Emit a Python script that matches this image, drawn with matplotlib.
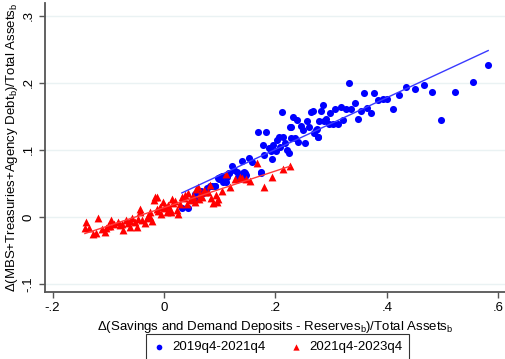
import numpy as np
import matplotlib
matplotlib.use("Agg")
import matplotlib.pyplot as plt

plt.rcParams['font.family'] = ['Liberation Sans', 'DejaVu Sans']

# 2019q4-2021q4
x_2019 = [0.582, 0.555, 0.522, 0.497, 0.481, 0.467, 0.451, 0.434, 0.422, 0.411,
          0.400, 0.393, 0.385, 0.377, 0.372, 0.365, 0.359, 0.354, 0.348, 0.343,
          0.336, 0.332, 0.327, 0.321, 0.317, 0.312, 0.307, 0.303, 0.298, 0.296,
          0.291, 0.287, 0.285, 0.282, 0.278, 0.276, 0.273, 0.267, 0.264, 0.260,
          0.257, 0.250, 0.246, 0.239, 0.232, 0.228, 0.212, 0.169, 0.183, 0.178,
          0.180, 0.188, 0.194, 0.192, 0.196, 0.201, 0.203, 0.206, 0.208, 0.214,
          0.217, 0.221, 0.224, 0.226, 0.228, 0.235, 0.241, 0.253, 0.270, 0.274,
          0.277, 0.140, 0.153, 0.158, 0.122, 0.126, 0.144, 0.147, 0.174, 0.117,
          0.133, 0.137, 0.100, 0.142, 0.145, 0.113, 0.106, 0.099, 0.092, 0.086,
          0.077, 0.070, 0.067, 0.056, 0.032, 0.043, 0.056, 0.068, 0.082, 0.091,
          0.097, 0.104, 0.111, 0.117, 0.131, 0.145, 0.174]
y_2019 = [0.227, 0.201, 0.187, 0.145, 0.187, 0.197, 0.191, 0.193, 0.182, 0.161,
          0.176, 0.176, 0.174, 0.185, 0.155, 0.163, 0.185, 0.158, 0.146, 0.170,
          0.161, 0.199, 0.161, 0.145, 0.164, 0.139, 0.161, 0.139, 0.155, 0.139,
          0.146, 0.143, 0.167, 0.158, 0.143, 0.119, 0.130, 0.158, 0.157, 0.134,
          0.143, 0.130, 0.136, 0.145, 0.149, 0.134, 0.157, 0.127, 0.126, 0.107,
          0.093, 0.103, 0.086, 0.099, 0.107, 0.099, 0.115, 0.119, 0.104, 0.119,
          0.110, 0.100, 0.096, 0.134, 0.118, 0.118, 0.112, 0.110, 0.125, 0.131,
          0.119, 0.084, 0.088, 0.082, 0.076, 0.070, 0.067, 0.063, 0.067, 0.066,
          0.060, 0.057, 0.060, 0.066, 0.061, 0.060, 0.052, 0.056, 0.046, 0.046,
          0.043, 0.036, 0.038, 0.034, 0.013, 0.013, 0.025, 0.036, 0.046, 0.046,
          0.058, 0.061, 0.052, 0.066, 0.067, 0.066, 0.066]

# 2021q4-2023q4
x_2021 = [-0.140, -0.142, -0.135, -0.118, -0.127, -0.111, -0.104, -0.100, -0.095, -0.090,
          -0.083, -0.075, -0.074, -0.068, -0.064, -0.061, -0.057, -0.052, -0.049, -0.043,
          -0.039, -0.034, -0.031, -0.025, -0.022, -0.018, -0.016, -0.025, -0.007, -0.002,
          0.002, 0.007, 0.012, 0.016, 0.023, 0.025, 0.032, 0.036, 0.043, 0.050,
          0.056, 0.061, 0.068, 0.074, 0.079, 0.084, 0.088, 0.095, 0.041, 0.167,
          0.226, 0.214, 0.194, 0.180, 0.154, 0.147, 0.140, 0.136, 0.127, 0.111,
          0.118, 0.104, 0.097, 0.093, -0.013, -0.043, -0.012, -0.005, 0.001, 0.010,
          0.020, 0.028, 0.046, 0.052, 0.065, 0.072, 0.082, 0.063, -0.010, -0.029,
          -0.047, -0.061, -0.079, -0.097, -0.106, -0.122, 0.005, 0.014, 0.038, 0.058]
y_2021 = [-0.007, -0.016, -0.016, -0.001, -0.025, -0.018, -0.016, -0.013, -0.004, -0.010,
          -0.007, -0.010, -0.019, -0.004, -0.009, -0.015, -0.001, -0.007, -0.015, 0.007,
          -0.004, -0.009, -0.001, 0.007, -0.006, 0.025, 0.030, 0.000, 0.015, 0.022,
          0.013, 0.018, 0.007, 0.021, 0.010, 0.004, 0.030, 0.028, 0.036, 0.028,
          0.022, 0.045, 0.030, 0.037, 0.037, 0.028, 0.021, 0.022, 0.019, 0.081,
          0.076, 0.072, 0.060, 0.045, 0.054, 0.057, 0.058, 0.060, 0.057, 0.064,
          0.045, 0.039, 0.027, 0.033, 0.030, 0.012, 0.012, 0.005, 0.016, 0.012,
          0.024, 0.019, 0.025, 0.031, 0.034, 0.040, 0.047, 0.026, 0.009, 0.002,
          -0.003, -0.006, -0.012, -0.014, -0.022, -0.024, 0.008, 0.027, 0.033, 0.041]

fig = plt.figure(figsize=(5.06, 3.59), dpi=100)
ax = fig.add_axes([45 / 506, 67 / 359, 461 / 506, 289 / 359])

ax.scatter(x_2019, y_2019, s=26, color='#0000ff', marker='o', linewidths=0,
           label='2019q4-2021q4', zorder=3)
ax.scatter(x_2021, y_2021, s=32, color='#ff0000', marker='^', linewidths=0,
           label='2021q4-2023q4', zorder=3)

# linear fits
for xs, ys, c in [(x_2019, y_2019, '#3a3aff'), (x_2021, y_2021, '#ff3a3a')]:
    xs = np.array(xs)
    b, a = np.polyfit(xs, np.array(ys), 1)
    xx = np.array([xs.min(), xs.max()])
    ax.plot(xx, a + b * xx, color=c, lw=1.0, zorder=4)

ax.set_xlim(-0.2136, 0.614)
ax.set_ylim(-0.112, 0.319)
ax.set_xticks([-0.2, 0, 0.2, 0.4, 0.6])
ax.set_xticklabels(['-.2', '0', '.2', '.4', '.6'])
ax.set_yticks([-0.1, 0, 0.1, 0.2, 0.3])
ax.set_yticklabels(['-.1', '0', '.1', '.2', '.3'], rotation=90, va='center')
ax.grid(axis='y', color='#eaf2f3', lw=1.0, zorder=0)
ax.set_axisbelow(True)

for s in ['top', 'right']:
    ax.spines[s].set_visible(False)
for s in ['left', 'bottom']:
    ax.spines[s].set_color('#555555')
    ax.spines[s].set_linewidth(1.3)
ax.tick_params(direction='out', length=4, width=1.0, color='#555555',
               labelsize=9.5, labelcolor='black')

ax.set_xlabel('Δ(Savings and Demand Deposits - Reserves$_\\mathregular{b}$)/Total Assets$_\\mathregular{b}$',
              fontsize=9.5, labelpad=3)
ax.set_ylabel('Δ(MBS+Treasuries+Agency Debt$_\\mathregular{b}$)/Total Assets$_\\mathregular{b}$',
              fontsize=9.5, labelpad=2)

leg = ax.legend(loc='upper center', bbox_to_anchor=(0.504, -0.147), ncol=2,
                fontsize=9.5, frameon=True, fancybox=False, edgecolor='black',
                borderpad=0.5, handlelength=1.0, handletextpad=0.5,
                columnspacing=1.8, scatterpoints=1, markerscale=0.8,
                borderaxespad=0)
leg.get_frame().set_linewidth(0.8)

fig.savefig('out.png', dpi=100)
